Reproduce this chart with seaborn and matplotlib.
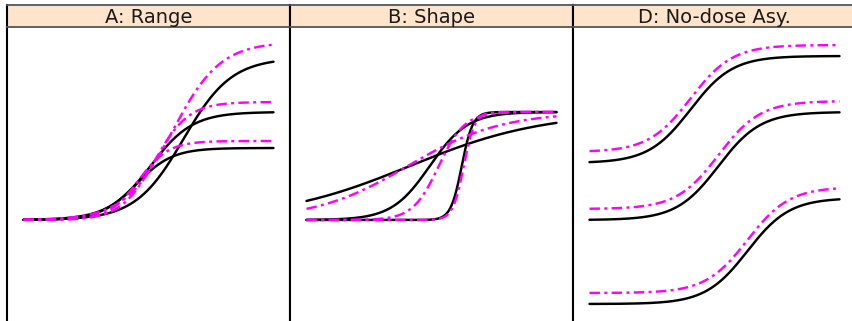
import numpy as np
import pandas as pd
import matplotlib
matplotlib.use("Agg")
import matplotlib.pyplot as plt
import seaborn as sns

sns.set_theme(style="white")
plt.rcParams["font.family"] = ["DejaVu Sans"]

# Panel titles
titles = ["A: Range", "B: Shape", "D: No-dose Asy."]

# Logistic curve parameters (log-dose axis 0..10): lower asymptote, upper asymptote,
# inflection point and scale. "base" curves are solid black, "alt" curves are magenta dash-dot.
# A: Range
a_base_lower = [0.0, 0.0, 0.0]
a_base_upper = [1.62, 1.08, 0.72]
a_base_mid = [6.40, 5.08, 4.52]
a_base_scale = [0.96, 0.84, 0.72]
a_alt_lower = [0.0, 0.0, 0.0]
a_alt_upper = [1.78, 1.18, 0.79]
a_alt_mid = [5.96, 5.24, 4.60]
a_alt_scale = [0.96, 0.68, 0.60]

# B: Shape
b_base_lower = [0.0, 0.0, 0.0]
b_base_upper = [1.08, 1.08, 1.08]
b_base_mid = [4.13, 4.93, 6.21]
b_base_scale = [2.68, 0.76, 0.22]
b_alt_lower = [0.0, 0.0, 0.0]
b_alt_upper = [1.08, 1.08, 1.08]
b_alt_mid = [4.05, 5.29, 6.29]
b_alt_scale = [1.87, 0.52, 0.22]

# D: No-dose asymptote
d_base_lower = [0.57, 0.0, -0.84]
d_base_upper = [1.64, 1.08, 0.22]
d_base_mid = [4.04, 5.16, 6.32]
d_base_scale = [0.84, 0.84, 0.84]
d_alt_lower = [0.68, 0.11, -0.73]
d_alt_upper = [1.75, 1.19, 0.33]
d_alt_mid = [4.04, 5.16, 6.32]
d_alt_scale = [0.84, 0.84, 0.84]

panels = [
    ((a_base_lower, a_base_upper, a_base_mid, a_base_scale),
     (a_alt_lower, a_alt_upper, a_alt_mid, a_alt_scale)),
    ((b_base_lower, b_base_upper, b_base_mid, b_base_scale),
     (b_alt_lower, b_alt_upper, b_alt_mid, b_alt_scale)),
    ((d_base_lower, d_base_upper, d_base_mid, d_base_scale),
     (d_alt_lower, d_alt_upper, d_alt_mid, d_alt_scale)),
]

dose = np.linspace(0, 10, 500)


def curves_frame(params, group):
    lower, upper, mid, scale = params
    rows = []
    for i, (c, d, e, s) in enumerate(zip(lower, upper, mid, scale)):
        y = c + (d - c) / (1.0 + np.exp(-(dose - e) / s))
        rows.append(pd.DataFrame({"dose": dose, "response": y,
                                  "curve": f"{group}{i}", "group": group}))
    return pd.concat(rows, ignore_index=True)


W, H = 853, 321
fig = plt.figure(figsize=(W / 100, H / 100), dpi=100)


def frac(x0, top, w, h):
    return [x0 / W, 1 - (top + h) / H, w / W, h / H]


panel_left = [7, 290, 573]
panel_w = 283
strip_top, strip_h = 5, 22
plot_top, plot_h = 27, 318

for k, (title, (base, alt)) in enumerate(zip(titles, panels)):
    ax = fig.add_axes(frac(panel_left[k], plot_top, panel_w, plot_h))
    df_base = curves_frame(base, "base")
    df_alt = curves_frame(alt, "alt")
    sns.lineplot(data=df_base, x="dose", y="response", units="curve",
                 estimator=None, color="black", lw=1.75, ax=ax)
    sns.lineplot(data=df_alt, x="dose", y="response", units="curve",
                 estimator=None, color="#ff00ff", lw=1.75,
                 linestyle=(0, (4.3, 1.8, 1.2, 1.8)), ax=ax)
    ax.set_xlim(-0.66, 10.66)
    ax.set_ylim(-1.25, 1.93)
    ax.set_xticks([])
    ax.set_yticks([])
    ax.set_xlabel("")
    ax.set_ylabel("")
    ax.set_facecolor("white")
    for side in ["left", "right", "bottom"]:
        ax.spines[side].set_color("black")
        ax.spines[side].set_linewidth(1.5)
    ax.spines["top"].set_visible(False)

    sax = fig.add_axes(frac(panel_left[k], strip_top, panel_w, strip_h))
    sax.set_facecolor("#fde4cb")
    sax.set_xticks([])
    sax.set_yticks([])
    for side in ["top", "bottom"]:
        sax.spines[side].set_color("#555555")
        sax.spines[side].set_linewidth(1.3)
    for side in ["left", "right"]:
        sax.spines[side].set_color("black")
        sax.spines[side].set_linewidth(1.5)
    sax.text(0.5, 0.45, title, ha="center", va="center", fontsize=14,
             color="#1a1a1a", transform=sax.transAxes)

fig.savefig("out.png", dpi=100, facecolor="white")
